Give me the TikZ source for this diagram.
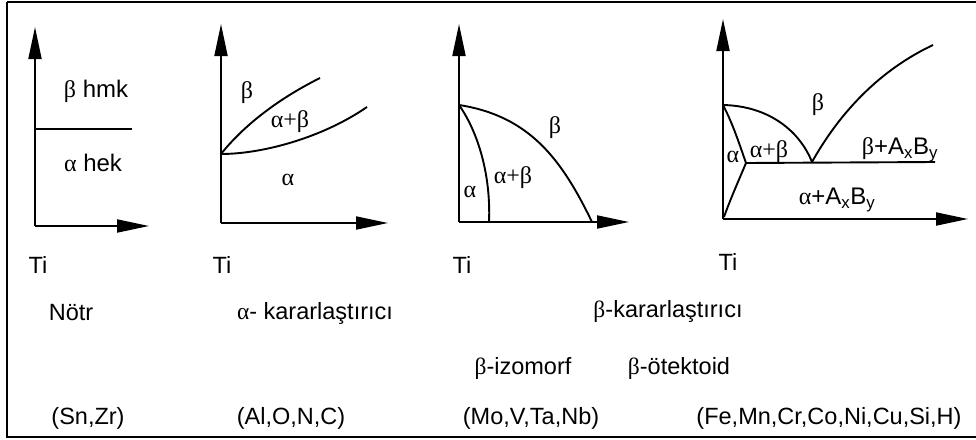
\documentclass[tikz,border=0pt]{standalone}
\usepackage{fontspec}
\setmainfont{Liberation Sans}
\newfontfamily\grk{Liberation Serif}
\usetikzlibrary{arrows.meta}
\newcommand{\al}{{\grk α}}
\newcommand{\be}{{\grk β}}
\begin{document}
\begin{tikzpicture}[x=1pt,y=-1pt]
\tikzset{
  axis/.style={line width=1.9pt, -{Triangle[length=32pt,width=13pt]}},
  curve/.style={line width=1.9pt},
  lbl/.style={font=\fontsize{24}{28}\selectfont, inner sep=0pt},
  txt/.style={font=\fontsize{23.5}{28}\selectfont, inner sep=0pt}
}
\useasboundingbox (0,0) rectangle (976,439);
\fill[white] (0,0) rectangle (976,439);
\draw[line width=2.2pt] (7,2) -- (985,2) (7,2) -- (7,437) -- (985,437);

% Panel 1
\coordinate (o1) at (35,226);
\coordinate (y1) at (35,27);
\coordinate (x1) at (149,226);
\coordinate (h1a) at (35,129);
\coordinate (h1b) at (132,129);
\draw[axis] (o1) -- (y1);
\draw[axis] (o1) -- (x1);
\draw[curve] (h1a) -- (h1b);
\node[lbl] (b1) at (96,91) {\be\ hmk};
\node[lbl] (a1) at (93,163) {\al\ hek};
\node[txt] (ti1) at (38,265) {Ti};

% Panel 2
\coordinate (o2) at (221,223);
\coordinate (y2) at (221,24);
\coordinate (x2) at (388,223);
\coordinate (s2) at (221,154);
\coordinate (u2) at (320,78);
\coordinate (l2) at (367,107);
\draw[axis] (o2) -- (y2);
\draw[axis] (o2) -- (x2);
\draw[curve] (s2) .. controls (245,124) and (280,98) .. (u2);
\draw[curve] (s2) .. controls (262,154) and (322,138) .. (l2);
\node[lbl] (b2) at (247,93) {\be};
\node[lbl] (ab2) at (290,122) {\grk α+β};
\node[lbl] (a2) at (288,180) {\al};
\node[txt] (ti2) at (222,265) {Ti};

% Panel 3
\coordinate (o3) at (459,222);
\coordinate (y3) at (459,24);
\coordinate (x3) at (629,222);
\coordinate (s3) at (459,105);
\coordinate (i3) at (489,222);
\coordinate (e3) at (592,222);
\draw[axis] (o3) -- (y3);
\draw[axis] (o3) -- (x3);
\draw[curve] (s3) .. controls (478,132) and (491,175) .. (i3);
\draw[curve] (s3) .. controls (530,116) and (562,160) .. (e3);
\node[lbl] (b3) at (555,128) {\be};
\node[lbl] (ab3) at (513,178) {\grk α+β};
\node[lbl] (a3) at (470,192) {\al};
\node[txt] (ti3) at (462,265) {Ti};

% Panel 4
\coordinate (o4) at (723,219);
\coordinate (y4) at (723,19);
\coordinate (x4) at (968,219);
\coordinate (s4) at (723,105);
\coordinate (t4) at (746,163);
\coordinate (e4) at (812,162);
\coordinate (r4) at (935,162);
\coordinate (c4) at (933,45);
\coordinate (b4) at (724,217);
\draw[axis] (o4) -- (y4);
\draw[axis] (o4) -- (x4);
\draw[curve] (t4) -- (r4);
\draw[curve] (s4) .. controls (770,106) and (800,132) .. (e4);
\draw[curve] (s4) .. controls (733,124) and (740,146) .. (t4);
\draw[curve] (t4) .. controls (738,182) and (730,200) .. (b4);
\draw[curve] (e4) .. controls (840,112) and (880,70) .. (c4);
\node[lbl] (b4l) at (818,105) {\be};
\node[lbl] (a4) at (733,157) {\al};
\node[lbl] (ab4) at (769,152) {\grk α+β};
\node[lbl] (bab) at (900,150) {\be+A\textsubscript{x}B\textsubscript{y}};
\node[lbl] (aab) at (837,200) {\al+A\textsubscript{x}B\textsubscript{y}};
\node[txt] (ti4) at (728,262) {Ti};

% Bottom texts
\node[txt] (n1) at (71,313) {Nötr};
\node[txt] (n2) at (315,313) {\al- kararlaştırıcı};
\node[txt] (n3) at (668,311) {\be-kararlaştırıcı};
\node[txt] (n4) at (523,368) {\be-izomorf};
\node[txt] (n5) at (679,368) {\be-ötektoid};
\node[txt] (p1) at (88,418) {(Sn,Zr)};
\node[txt] (p2) at (291,418) {(Al,O,N,C)};
\node[txt] (p3) at (531,418) {(Mo,V,Ta,Nb)};
\node[txt] (p4) at (829,418) {(Fe,Mn,Cr,Co,Ni,Cu,Si,H)};
\end{tikzpicture}
\end{document}
